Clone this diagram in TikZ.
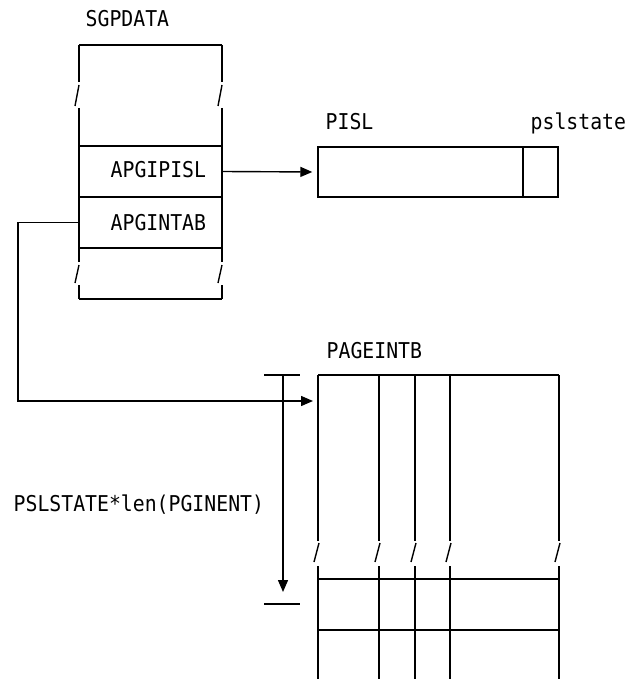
\documentclass[tikz,border=0pt]{standalone}
\usepackage{fontspec}
\setmonofont{DejaVu Sans Mono}
\usetikzlibrary{arrows.meta, positioning}
\newcommand{\tallfont}[1]{\scalebox{1}[1.1]{#1}}

\begin{document}
\begin{tikzpicture}[x=1pt, y=-1pt, line width=1.4pt,
  lbl/.style={font=\ttfamily\fontsize{19.8}{24}\selectfont, inner sep=0pt, anchor=base west},
  field/.style={draw, inner sep=0pt},
  ptr/.style={-{Triangle[length=12pt,width=10pt]}, shorten >=5pt}]
\useasboundingbox (0,0) rectangle (626,679);
% SGPDATA control block
\node[lbl] (sgplab) at (85,27) {\tallfont{SGPDATA}};
\draw (79,45) -- (222,45);
\draw (79,299) -- (222,299);
\foreach \x in {79,222} {
  \draw (\x,45) -- (\x,82);
  \draw (\x-4,106) -- (\x,85);
  \draw (\x,108) -- (\x,262);
  \draw (\x-4,283) -- (\x,265);
  \draw (\x,285) -- (\x,299);
}
\draw (79,146) -- (222,146);
\node[field, minimum width=143pt, minimum height=51pt] (ipisl) at (150.5,171.5) {};
\node[field, minimum width=143pt, minimum height=51pt] (intab) at (150.5,222.5) {};
\node[lbl] at (110,177) {\tallfont{APGIPISL}};
\node[lbl] at (110,230) {\tallfont{APGINTAB}};
% PISL
\node[lbl] (pisllab) at (325,130) {\tallfont{PISL}};
\node[lbl] (statelab) at (530,130) {\tallfont{pslstate}};
\node[field, minimum width=240pt, minimum height=50pt] (pisl) at (438,172) {};
\draw (523,147) -- (523,197);
\draw[ptr] (ipisl.east) -- (pisl.west);
% PAGEINTB
\node[lbl] (pglab) at (326,358) {\tallfont{PAGEINTB}};
\draw (318,375) -- (559,375);
\foreach \x in {318,379,415,450,559} {
  \draw (\x,375) -- (\x,541);
  \draw (\x-4,562) -- (\x+1,543);
  \draw (\x,566) -- (\x,679);
}
\foreach \y in {579,630}
  \draw (318,\y) -- (559,\y);
\coordinate (pgentry) at (318,401);
\coordinate (bend) at (18,401);
\draw[ptr] (intab.west) -| (bend) -- (pgentry);
% size of table
\coordinate (dtop) at (283,375);
\coordinate (dbot) at (283,604);
\draw ([xshift=-19pt]dtop) -- ([xshift=17pt]dtop);
\draw ([xshift=-19pt]dbot) -- ([xshift=17pt]dbot);
\draw[ptr, shorten >=12pt] (dtop) -- (dbot);
\node[lbl] (dimlab) at (13,511) {\tallfont{PSLSTATE*len(PGINENT)}};
\end{tikzpicture}
\end{document}
